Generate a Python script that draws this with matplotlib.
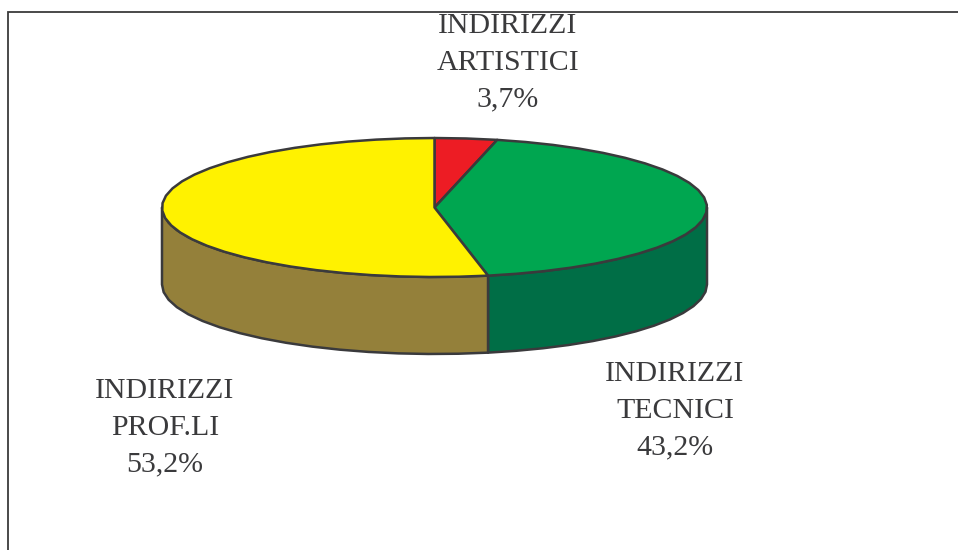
import numpy as np
import matplotlib.pyplot as plt
from matplotlib.patches import Polygon

etichette = ['INDIRIZZI\nARTISTICI', 'INDIRIZZI\nTECNICI', 'INDIRIZZI\nPROF.LI']
percentuali = [3.7, 43.2, 53.2]
etichette_val = ['3,7%', '43,2%', '53,2%']
colori_top = ['#ed1c24', '#00a650', '#fff200']
colori_lato = ['#8a1014', '#006e46', '#94803a']

# geometria in pixel, asse y rovesciato come nell'immagine
cx, cy = 434.5, 207.5
rx, ry = 272.5, 69.5
spessore = 77
bordo = '#3a3a3c'


def arco(a0, a1, dy=0):
    # angoli in gradi, in senso orario partendo dall'alto
    n = max(int(abs(a1 - a0) / 6), 1) + 1
    t = np.radians(np.linspace(a0, a1, n))
    return np.column_stack((cx + rx * np.sin(t), cy - ry * np.cos(t) + dy))


fig = plt.figure(figsize=(9.58, 5.5), dpi=100)
ax = fig.add_axes([0, 0, 1, 1])
ax.set_xlim(0, 958)
ax.set_ylim(550, 0)
ax.axis('off')

# cornice tagliata a destra e in basso
ax.plot([8.5, 8.5, 958], [550, 12, 12], color=bordo, lw=1.3, solid_joinstyle='miter')

tot = sum(percentuali)
angoli = np.concatenate(([0], np.cumsum(percentuali) / tot * 360))

# lato del cilindro, solo la meta davanti (90-270 gradi)
for i in range(len(percentuali)):
    a0 = max(angoli[i], 90)
    a1 = min(angoli[i + 1], 270)
    if a1 <= a0:
        continue
    sopra = arco(a0, a1)
    sotto = arco(a1, a0, spessore)
    ax.add_patch(Polygon(np.vstack((sopra, sotto)), closed=True, fc=colori_lato[i],
                         ec=bordo, lw=1.8, joinstyle='round'))

# faccia superiore
for i in range(len(percentuali)):
    pts = np.vstack(([[cx, cy]], arco(angoli[i], angoli[i + 1])))
    ax.add_patch(Polygon(pts, closed=True, fc=colori_top[i], ec=bordo, lw=1.8,
                         joinstyle='round'))

posizioni = [(508, 63), (675, 411), (165, 428)]
for et, val, (x, y) in zip(etichette, etichette_val, posizioni):
    ax.text(x, y, et + '\n' + val, ha='center', va='center', fontsize=21.5,
            family='Liberation Serif', color=bordo, linespacing=1.54)

fig.savefig('out.png', dpi=100)
